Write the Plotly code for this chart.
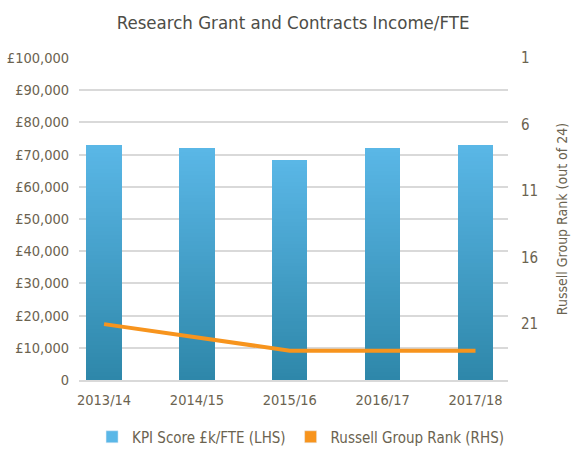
import plotly.graph_objects as go

# ---- data ----
years = ["2013/14", "2014/15", "2015/16", "2016/17", "2017/18"]
kpi_score = [72900, 72000, 68300, 72000, 72900]          # £ per FTE (LHS)
russell_rank = [21, 22, 23, 23, 23]                       # rank out of 24 (RHS)
left_tick_vals = [0, 10000, 20000, 30000, 40000, 50000, 60000, 70000, 80000, 90000, 100000]
left_tick_text = ["0", "£10,000", "£20,000", "£30,000", "£40,000", "£50,000",
                  "£60,000", "£70,000", "£80,000", "£90,000", "£100,000"]
right_tick_vals = [1, 6, 11, 16, 21]

FONT = "DejaVu Sans Condensed, DejaVu Sans, sans-serif"
TXT = "#6B6350"
ORANGE = "#F7941D"

def f(size, color=TXT):
    return dict(family=FONT, size=size, color=color)

top_rgb = (90, 183, 231)
bot_rgb = (46, 135, 169)
N = 60

fig = go.Figure()
# gradient bars: each bar split into N stacked slices
for k in range(N):
    t = (k + 0.5) / N
    c = tuple(round(bot_rgb[i] + (top_rgb[i] - bot_rgb[i]) * t) for i in range(3))
    fig.add_trace(go.Bar(
        x=years,
        y=[v / N * 1.02 if k < N - 1 else v / N for v in kpi_score],
        base=[v * k / N for v in kpi_score],
        width=0.38,
        marker=dict(color="rgb(%d,%d,%d)" % c, line=dict(width=0)),
        name="KPI Score £k/FTE (LHS)",
        showlegend=False,
        hoverinfo="skip" if k < N - 1 else None,
    ))
fig.add_trace(go.Scatter(
    x=years, y=russell_rank, yaxis="y2", mode="lines",
    line=dict(color=ORANGE, width=4),
    name="Russell Group Rank (RHS)", showlegend=False,
))
# legend entries (square swatches)
fig.add_trace(go.Bar(
    x=[None], y=[None],
    marker=dict(color="rgb(%d,%d,%d)" % top_rgb),
    name="KPI Score £k/FTE (LHS)", showlegend=True,
))
fig.add_trace(go.Bar(
    x=[None], y=[None],
    marker=dict(color=ORANGE),
    name="Russell Group Rank (RHS)", showlegend=True,
))

fig.update_layout(
    width=578, height=451,
    margin=dict(l=79, r=70, t=58, b=71, autoexpand=False),
    paper_bgcolor="white", plot_bgcolor="white",
    barmode="overlay", bargap=0,
    font=f(15),
    title=dict(text="Research Grant and Contracts Income/FTE",
               x=0.507, xanchor="center", y=0.951, yanchor="middle",
               font=f(18.5, "#4D4D47")),
    xaxis=dict(type="category", range=[-0.27, 4.35], automargin=False,
               showgrid=False, showline=True, linecolor="#D9D9D9", linewidth=2,
               ticks="outside", ticklen=6, tickcolor="rgba(0,0,0,0)",
               tickfont=f(14.5), fixedrange=True),
    yaxis=dict(range=[0, 100000], tickvals=left_tick_vals, ticktext=left_tick_text,
               automargin=False,
               showgrid=True, gridcolor="#D9D9D9", gridwidth=1.5,
               zeroline=False, showline=False,
               ticks="outside", ticklen=6, tickcolor="rgba(0,0,0,0)",
               tickfont=f(14.5)),
    yaxis2=dict(overlaying="y", side="right", range=[25.2, 1], automargin=False,
                tickvals=right_tick_vals, showgrid=False, zeroline=False,
                ticks="outside", ticklen=9, tickcolor="rgba(0,0,0,0)",
                tickfont=f(15),
                title=dict(text="Russell Group Rank (out of 24)",
                           font=f(14), standoff=20)),
    legend=dict(orientation="h", xref="container", yref="container",
                x=0.52, xanchor="center", y=0.031, yanchor="middle",
                font=f(15), itemwidth=30,
                traceorder="normal"),
    showlegend=True,
)

fig.write_html(
    "out.html",
    config={"displayModeBar": False},
    post_script="document.body.style.margin='0px';document.body.style.overflow='hidden';",
)
